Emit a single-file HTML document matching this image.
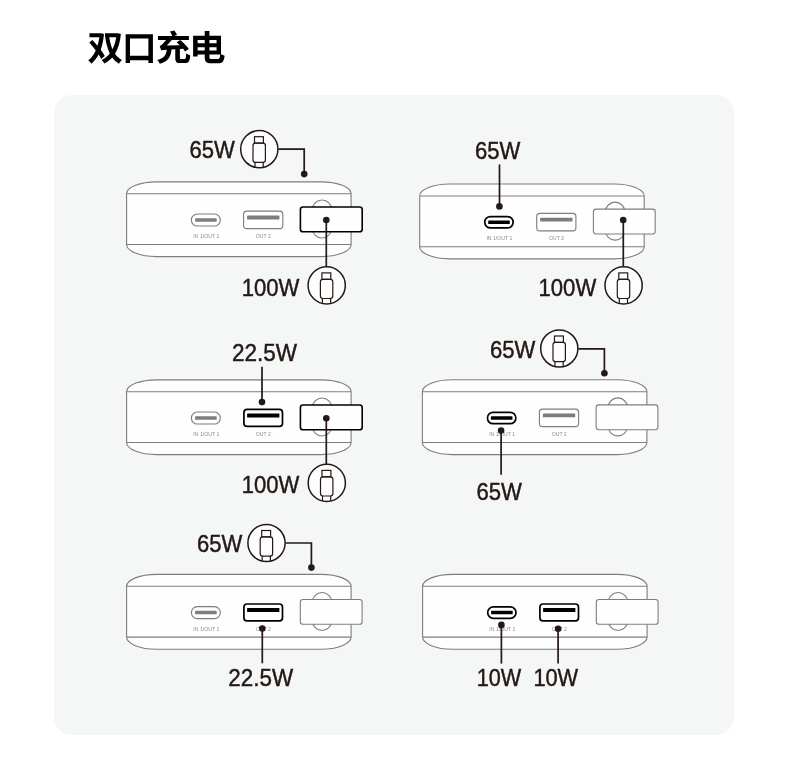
<!DOCTYPE html>
<html lang="zh-CN">
<head>
<meta charset="utf-8">
<title>双口充电</title>
<style>
html,body{margin:0;padding:0;background:#fff}
body{width:790px;height:775px;position:relative;overflow:hidden;font-family:"Liberation Sans",sans-serif}
h1{margin:0;font-size:0;position:absolute;left:0;top:0}
.vh{position:absolute;width:1px;height:1px;overflow:hidden;clip:rect(0 0 0 0);white-space:nowrap}
.card{position:absolute;left:54.3px;top:94.5px;width:679.6px;height:640.5px;border-radius:18px;background:#f5f7f6}
svg{position:absolute;left:0;top:0;display:block;will-change:transform}
text{font-family:"Liberation Sans",sans-serif}
.w{font-size:24px;fill:#231815;stroke:#231815;stroke-width:.45px}
.t{font-size:5.15px;fill:#8e8e8e}
</style>
</head>
<body>
<h1><span class="vh">双口充电</span>
<svg width="790" height="80" viewBox="0 0 790 80" role="img" aria-label="双口充电"><g fill="#000"><path transform="translate(87.45,60.55) scale(0.03580,-0.03510)" d="M804 662C784 532 749 418 700 322C657 422 628 538 609 662ZM491 776V662H545L496 654C524 480 563 327 624 201C562 120 486 58 397 18C424 -6 459 -55 476 -87C559 -42 631 14 692 84C742 14 804 -45 879 -90C898 -58 936 -11 964 13C884 55 821 116 770 192C856 334 911 520 934 759L855 780L835 776ZM49 515C109 447 174 367 232 288C178 167 107 70 21 8C50 -14 88 -59 107 -89C190 -22 258 65 312 171C341 126 365 84 382 47L483 132C457 184 417 244 370 307C416 435 446 585 462 758L385 780L364 776H56V662H333C321 577 304 496 281 421C233 479 183 536 137 586Z"/><path transform="translate(122.0,60.55) scale(0.03450,-0.03510)" d="M106 752V-70H231V12H765V-68H896V752ZM231 135V630H765V135Z"/><path transform="translate(155.8,60.55) scale(0.03526,-0.03510)" d="M150 290C177 299 210 304 311 310C295 170 250 75 40 18C68 -9 102 -60 116 -93C367 -14 425 124 445 317L552 323V83C552 -33 583 -71 702 -71C725 -71 804 -71 828 -71C931 -71 963 -23 976 146C942 155 888 176 861 198C857 66 850 42 817 42C797 42 737 42 722 42C688 42 683 47 683 85V329L774 333C795 307 814 282 827 261L937 329C886 404 778 509 692 582L592 523C620 498 649 469 678 439L313 427C361 473 410 527 454 583H939V699H515L602 725C587 762 556 816 527 857L402 826C426 787 453 736 467 699H61V583H291C246 523 198 472 178 456C153 431 132 416 109 411C123 376 143 316 150 290Z"/><path transform="translate(189.05,60.55) scale(0.03650,-0.03510)" d="M429 381V288H235V381ZM558 381H754V288H558ZM429 491H235V588H429ZM558 491V588H754V491ZM111 705V112H235V170H429V117C429 -37 468 -78 606 -78C637 -78 765 -78 798 -78C920 -78 957 -20 974 138C945 144 906 160 876 176V705H558V844H429V705ZM854 170C846 69 834 43 785 43C759 43 647 43 620 43C565 43 558 52 558 116V170Z"/></g></svg></h1>
<div class="card"></div>
<svg width="790" height="775" viewBox="0 0 790 775">
<defs>
<g id="body">
<path d="M0,11.9 A30,11.9 0 0 1 30,0 H194.5 A30,11.9 0 0 1 224.5,11.9 V62.7 A30,12.1 0 0 1 194.5,74.8 H30 A30,12.1 0 0 1 0,62.7 Z" fill="#fefefe" stroke="#7d7d7d" stroke-width="1.1"/>
<path d="M0,11.9 H224.5 M0,62.7 H224.5" fill="none" stroke="#7d7d7d" stroke-width="1.1"/>
<rect x="185.7" y="18.1" width="19.4" height="38" rx="9.7" fill="none" stroke="#7d7d7d" stroke-width="1.1"/>
<text class="t" x="79.7" y="56.2" text-anchor="middle">IN 1/OUT 1</text>
<text class="t" x="136.8" y="56.2" text-anchor="middle">OUT 2</text>
</g>
<g id="usbc-g">
<rect x="64.75" y="32.2" width="29" height="12" rx="6.0" fill="#fefefe" stroke="#7d7d7d" stroke-width="1.1"/>
<rect x="68.5" y="36.45" width="21.6" height="3.5" rx="0.6" fill="#7d7d7d"/>
</g>
<g id="usbc-k">
<rect x="65.05" y="32.5" width="28.4" height="11.4" rx="5.7" fill="#fefefe" stroke="#000" stroke-width="1.7"/>
<rect x="68.5" y="36.45" width="21.6" height="3.5" rx="0.6" fill="#000"/>
</g>
<g id="usba-g">
<rect x="117" y="29.3" width="39.2" height="17.5" rx="3.2" fill="#fefefe" stroke="#7d7d7d" stroke-width="1.1"/>
<rect x="120.5" y="33.65" width="32.3" height="3.9" rx="0.5" fill="#7d7d7d"/>
</g>
<g id="usba-k">
<rect x="117.3" y="29.6" width="38.6" height="16.9" rx="3.2" fill="#fefefe" stroke="#000" stroke-width="1.7"/>
<rect x="120.5" y="33.65" width="32.3" height="3.9" rx="0.5" fill="#000"/>
</g>
<g id="plug-g">
<rect x="173.7" y="25.1" width="61.8" height="24.8" rx="2.6" fill="#fefefe" stroke="#7d7d7d" stroke-width="1.1"/>
</g>
<g id="plug-k">
<rect x="173.8" y="25.1" width="61.8" height="24.8" rx="2.6" fill="#fefefe" stroke="#000" stroke-width="1.6"/>
</g>
<g id="cicon">
<circle cx="0" cy="0" r="18.6" fill="#fdfdfd" stroke="#231815" stroke-width="1.5"/>
<g fill="none" stroke="#231815" stroke-width="1.2">
<rect x="-4.8" y="-12.5" width="8.9" height="6.4"/>
<rect x="-6.3" y="-6.1" width="12.4" height="19.2" rx="2.4"/>
<path d="M-4.3,13.1 V18.1 M3.9,13.1 V18.1"/>
</g>
</g>
</defs>
<g transform="translate(126.6,181.85)"><use href="#body"/><use href="#usbc-g"/><use href="#usba-g"/><use href="#plug-k"/></g>
<text class="w" transform="translate(189.43,158.10) scale(0.9199,1)">65W</text>
<use href="#cicon" x="259.3" y="149.2"/>
<polyline points="278.3,149.1 304.2,149.1 304.2,174.1" fill="none" stroke="#231815" stroke-width="1.7"/>
<circle cx="304.2" cy="174.1" r="3.3" fill="#231815"/>
<polyline points="326.3,220 326.3,267" fill="none" stroke="#231815" stroke-width="1.7"/>
<circle cx="326.3" cy="220" r="3.3" fill="#231815"/>
<use href="#cicon" x="326.7" y="285.4"/>
<text class="w" transform="translate(241.67,296.10) scale(0.9213,1)">100W</text>
<g transform="translate(419.7,184.05)"><use href="#body"/><use href="#usbc-k"/><use href="#usba-g"/><use href="#plug-g"/></g>
<text class="w" transform="translate(474.93,158.60) scale(0.9199,1)">65W</text>
<polyline points="499.5,164.4 499.5,206.4" fill="none" stroke="#231815" stroke-width="1.7"/>
<circle cx="499.4" cy="206.4" r="3.3" fill="#231815"/>
<polyline points="623.3,220 623.3,267" fill="none" stroke="#231815" stroke-width="1.7"/>
<circle cx="623.2" cy="220" r="3.3" fill="#231815"/>
<use href="#cicon" x="623.6" y="285.4"/>
<text class="w" transform="translate(538.57,296.10) scale(0.9196,1)">100W</text>
<g transform="translate(126.6,379.85)"><use href="#body"/><use href="#usbc-g"/><use href="#usba-k"/><use href="#plug-k"/></g>
<text class="w" transform="translate(231.92,361.20) scale(0.9387,1)">22.5W</text>
<polyline points="262,366.7 262,402.1" fill="none" stroke="#231815" stroke-width="1.7"/>
<circle cx="262" cy="402.1" r="3.3" fill="#231815"/>
<polyline points="326.3,418.2 326.3,464.5" fill="none" stroke="#231815" stroke-width="1.7"/>
<circle cx="326.3" cy="418.2" r="3.3" fill="#231815"/>
<use href="#cicon" x="326.8" y="482.9"/>
<text class="w" transform="translate(241.67,493.00) scale(0.9196,1)">100W</text>
<g transform="translate(422.4,379.8)"><use href="#body"/><use href="#usbc-k"/><use href="#usba-g"/><use href="#plug-g"/></g>
<text class="w" transform="translate(489.93,357.80) scale(0.9199,1)">65W</text>
<use href="#cicon" x="559.3" y="348.5"/>
<polyline points="578.3,348.9 604.4,348.9 604.4,373.2" fill="none" stroke="#231815" stroke-width="1.7"/>
<circle cx="604.4" cy="373.2" r="3.3" fill="#231815"/>
<polyline points="501.1,430.5 501.1,474.7" fill="none" stroke="#231815" stroke-width="1.7"/>
<circle cx="501.1" cy="430.5" r="3.3" fill="#231815"/>
<text class="w" transform="translate(476.43,499.80) scale(0.9220,1)">65W</text>
<g transform="translate(126.6,574.4)"><use href="#body"/><use href="#usbc-g"/><use href="#usba-k"/><use href="#plug-g"/></g>
<text class="w" transform="translate(196.93,552.20) scale(0.9199,1)">65W</text>
<use href="#cicon" x="266.5" y="543"/>
<polyline points="285.5,543 311.4,543 311.4,567.6" fill="none" stroke="#231815" stroke-width="1.7"/>
<circle cx="311.4" cy="567.6" r="3.3" fill="#231815"/>
<polyline points="262.3,628.5 262.3,663.3" fill="none" stroke="#231815" stroke-width="1.7"/>
<circle cx="262.3" cy="628.5" r="3.3" fill="#231815"/>
<text class="w" transform="translate(228.32,686.00) scale(0.9343,1)">22.5W</text>
<g transform="translate(422.6,574.4)"><use href="#body"/><use href="#usbc-k"/><use href="#usba-k"/><use href="#plug-g"/></g>
<polyline points="501.4,624.9 501.4,663.6" fill="none" stroke="#231815" stroke-width="1.7"/>
<circle cx="501.4" cy="624.9" r="3.3" fill="#231815"/>
<polyline points="558.1,628.7 558.1,663.6" fill="none" stroke="#231815" stroke-width="1.7"/>
<circle cx="558.1" cy="628.7" r="3.3" fill="#231815"/>
<text class="w" transform="translate(476.70,686.10) scale(0.9022,1)">10W</text>
<text class="w" transform="translate(533.39,686.10) scale(0.9086,1)">10W</text>
</svg>
</body>
</html>
